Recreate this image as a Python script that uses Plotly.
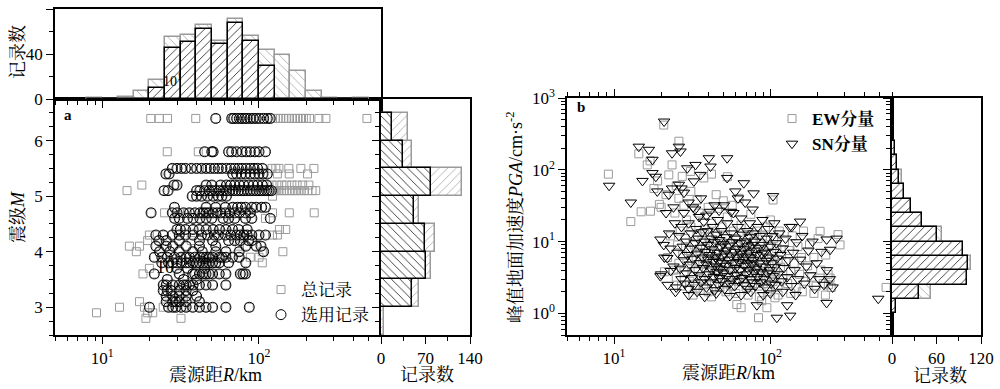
import math
import plotly.graph_objects as go

# ---------------- Panel a data ----------------
mag_levels = [6.4, 5.8, 5.5, 5.4, 5.2, 5.1, 5.0, 4.8, 4.7, 4.6, 4.4, 4.3, 4.2, 4.1, 4.0,
              3.9, 3.8, 3.7, 3.6, 3.5, 3.4, 3.3, 3.2, 3.1, 3.0, 2.9, 2.8]
# selected records (circles): hypocentral distance (km) per magnitude level
sel_dist = [
    [53, 67, 69, 72, 75, 78, 81, 84, 88, 92, 96, 101, 107, 113, 118],
    [45, 50, 51, 64, 67, 72, 78, 83, 88, 94, 100, 110],
    [28, 30, 32, 34, 37, 40, 43, 46, 49, 52, 55, 58, 62, 66, 70, 74, 78, 83, 88, 93, 98, 105],
    [25.5, 26.7, 68, 72, 77, 82, 88, 94, 100, 106, 113],
    [28.7, 30, 46, 50, 57, 62, 66, 70, 75, 80, 86, 92, 98, 105, 112],
    [24.8, 26.3, 40, 42, 45, 48, 50, 53, 56, 59, 62, 65, 68, 71, 74, 77, 80, 84, 88, 92, 96, 100, 104, 108, 112, 116, 120],
    [37.5, 40, 43, 47, 51, 55, 58, 62],
    [28.9, 46, 53, 61, 68, 73, 77, 82, 90, 96, 104, 110],
    [20.5, 28, 30, 33, 36, 39, 42, 44, 46, 48, 51, 54, 57, 61, 65, 70, 75, 82, 88],
    [29, 31, 35, 38, 42, 46, 50, 59, 64, 70, 82, 90, 118],
    [30, 31.5, 34, 38, 41.5, 46, 51, 56, 61.5, 67.8, 74, 84],
    [22, 24.5, 28, 31, 34, 38, 43, 47, 52, 55, 61, 66, 72, 76, 80, 84, 90, 100, 110],
    [23, 25.6, 31, 41.7, 50.6, 64, 70, 76, 86, 90],
    [22, 25.6, 28.2, 34.3, 41.7, 53, 82.4, 96, 103],
    [23.2, 27, 31, 37.8, 43.5, 53, 61.5, 74.7, 107],
    [21.5, 24, 26, 28.9, 31.8, 34.3, 36, 39, 42, 44, 46, 48, 50.6, 55.8, 58, 61.5, 67.8, 74.7],
    [24, 26.5, 28.2, 30, 32, 34.3, 36, 37.8, 40, 41.7, 44, 45.9, 48, 50.6, 53, 55.8, 64, 82.4],
    [30, 35, 45],
    [21.5, 31, 37.8, 39, 41.7, 43.8, 45.9, 48, 50.6, 55.8, 61.5, 76, 79, 82],
    [26, 33, 40],
    [24.5, 25.6, 28.2, 31, 33, 34.3, 36, 38, 41.7, 45.9, 50.6, 61.5],
    [24.5, 26, 27.5, 31, 34.3, 37.8],
    [25.6, 28.2, 31, 34.3, 40],
    [25.6, 28.2, 29.5, 31, 34.3, 41.7],
    [20, 26.5, 28.2, 29.5, 31.8, 34.3, 37.8, 41.7, 45.9, 50.6, 61.5, 86.7],
    [],
    [],
]
# records not selected (only in the total set)
extra_dist = [
    [20.4, 23.1, 26.1, 39.5, 122, 127, 132, 137, 143, 149, 155, 162, 169, 176, 184, 192, 200, 210, 241, 267, 488],
    [26, 41],
    [33, 47, 121, 128, 134, 155, 185, 224],
    [131, 156, 204],
    [17.9, 121, 130, 140, 150, 162, 175, 190, 208],
    [14.4, 122, 126, 130, 134, 139, 144, 150, 156, 163, 170, 178, 186, 195, 205, 218, 230],
    [122],
    [],
    [25, 35, 122, 156, 225],
    [110],
    [135, 148],
    [20, 122, 131],
    [19.5, 37],
    [14.9, 17.3, 75],
    [16.5, 105, 142],
    [88, 100],
    [30, 105],
    [20],
    [18.2, 80],
    [],
    [],
    [],
    [],
    [17.3, 33],
    [12.9, 18.6, 24.5, 33],
    [9.2, 19.5, 21],
    [19, 31.8],
]

# distance histogram (log10 R bin edges) and counts
dist_log_edges = [0.9, 1.0, 1.1, 1.2, 1.3, 1.4, 1.5, 1.6, 1.7, 1.8, 1.9, 2.0, 2.1, 2.2, 2.3, 2.4, 2.5, 2.6, 2.7]
dist_total_counts = [1, 0, 2, 7, 17, 55, 57, 66, 52, 71, 56, 44, 39, 25, 7, 1, 0, 1]
dist_sel_counts = [0, 0, 0, 0, 10, 45, 51, 62, 49, 68, 52, 29, 0, 0, 0, 0, 0, 0]

# magnitude histogram
mag_bin_centers = [2.75, 3.25, 3.75, 4.25, 4.75, 5.25, 5.75, 6.25]
mag_total_counts = [5, 59, 78, 85, 59, 128, 48, 43]
mag_sel_counts = [0, 49, 70, 69, 52, 78, 34, 17]

# ---------------- Panel b data ----------------
# (R km, PGA cm/s^2)
sn_points = [
    (9.3, 60), (12.8, 35), (14.4, 210), (15.2, 70), (16.7, 190), (17.6, 138), (17.6, 90), (18.5, 80),
    (18.9, 50), (19.8, 10.7), (20.8, 9), (20.9, 470), (21.9, 5.9), (22.4, 45), (23.5, 170), (23, 3.9),
    (19.8, 3.3), (26.6, 180), (26, 210), (26, 62), (29.4, 105), (33.2, 117), (32.4, 69), (35.7, 85),
    (40.4, 145), (41.4, 111), (52.9, 145), (52.9, 77), (59.7, 50), (67.6, 65), (78.1, 47), (104, 43),
    (155, 19), (137, 16), (229, 10.7), (265, 11), (241, 7.7), (229, 1.4), (490, 1.6), (110, 0.87),
    (134, 0.93), (128, 1.3), (82, 1.3), (24.7, 2.0),
    (20, 3.5), (21, 6), (22, 2.5), (22.5, 13), (23, 8), (24, 4.5), (24, 30), (24.5, 18), (21.5, 25), (23.5, 55),
    (27, 55), (28, 48), (30, 35), (33, 28), (36, 40), (39, 23), (44, 32), (47, 27), (56, 26), (62, 40),
    (25, 2.3), (25.5, 7), (26, 12), (26.5, 4.2), (27, 3), (27, 16), (27.5, 8.5), (28, 5.5), (28, 25), (28.5, 2.6),
    (29, 10), (29, 3.6), (29.5, 6.5), (30, 18), (30, 2.2), (30.5, 4.8), (31, 8), (31, 13), (31.5, 3.1), (32, 5.8),
    (32, 30), (32.5, 2.5), (33, 9.5), (33, 4), (33.5, 15), (34, 6.8), (34, 2.0), (34.5, 11), (35, 3.4), (35, 22),
    (35.5, 5), (36, 8.2), (36, 2.7), (36.5, 13.5), (37, 4.3), (37, 6), (37.5, 19), (38, 3), (38, 10), (38.5, 7.2),
    (39, 2.3), (39, 4.8), (39.5, 14), (40, 5.6), (40, 9), (40.5, 3.5), (41, 26), (41, 6.5), (41.5, 2.7), (42, 11),
    (42, 4.1), (42.5, 7.8), (43, 5.2), (43, 16), (43.5, 3.2), (44, 9.8), (44, 2.1), (44.5, 6), (45, 4.5), (45, 12.5),
    (45.5, 3.8), (46, 7), (46, 20), (46.5, 2.5), (47, 5.3), (47, 10.5), (47.5, 3.1), (48, 8.5), (48, 4.2), (48.5, 14),
    (49, 6.2), (49, 2.8), (49.5, 5), (50, 9.2), (50, 3.6), (50.5, 32), (51, 6.8), (51, 2.2), (52, 4.6), (52, 11.5),
    (52.5, 7.5), (53, 3.3), (53, 18), (54, 5.6), (54, 8.8), (55, 2.6), (55, 4), (56, 13), (56, 6.4), (57, 3),
    (57, 9.8), (58, 5), (58, 25), (59, 7.2), (59, 2.4), (60, 4.3), (60, 11), (61, 6), (61, 3.4), (62, 16),
    (62, 8), (63, 2.8), (63, 5.2), (64, 9.5), (64, 4), (65, 6.8), (65, 21), (66, 3.1), (66, 12.5), (67, 5.6),
    (67, 7.8), (68, 2.5), (68, 4.6), (69, 10), (69, 35), (70, 6.2), (70, 3.5), (71, 8.6), (71, 14), (72, 5),
    (72, 2.2), (73, 7), (73, 4), (74, 11.5), (74, 18), (75, 3), (75, 6), (76, 9), (76, 4.8), (77, 2.7),
    (77, 28), (78, 13), (78, 5.5), (79, 7.5), (79, 3.7), (80, 10), (80, 2.4), (81, 4.2), (82, 6.5), (83, 16),
    (83, 3.2), (84, 8.2), (85, 5), (86, 12), (86, 2.7), (87, 3.8), (88, 6.8), (89, 20), (90, 4.5), (90, 9),
    (91, 3), (92, 7), (93, 2.3), (94, 5.4), (95, 11), (96, 3.6), (97, 15), (98, 6), (99, 4), (100, 8.5),
    (101, 2.6), (102, 5), (103, 12), (104, 3.3), (105, 7.2), (106, 18), (107, 4.4), (108, 2.5), (109, 9.5), (110, 5.8),
    (112, 3.5), (114, 13), (116, 6.5), (118, 2.8), (120, 8), (122, 4.3), (125, 11), (128, 3.2), (130, 5.5), (133, 16),
    (136, 2.4), (140, 7), (143, 4), (147, 9.8), (150, 3), (155, 5.6), (160, 12), (165, 2.6), (170, 4.5), (175, 7.5),
    (180, 3.4), (186, 10), (192, 2.2), (198, 5), (205, 3), (212, 7.2), (220, 2.5), (230, 4), (240, 3), (250, 2.3),
    (30, 1.8), (38, 1.7), (45, 1.9), (55, 1.75), (65, 1.8), (75, 2), (90, 1.8), (100, 1.9), (120, 2), (145, 1.8),
]
ew_points = [
    (9.2, 87), (12.8, 19), (14.9, 26), (14.4, 167), (17.1, 26.5), (17, 133), (18, 55), (16.3, 117), (20.8, 420),
    (23.5, 117), (22.4, 85), (26, 250), (27.3, 81), (30.8, 95), (37.5, 77), (42, 87), (63, 40), (104, 38),
    (53, 80), (61, 1.33), (84, 0.87), (107, 1.65), (550, 2.3), (208, 13.9), (271, 12.5), (279, 9), (241, 3.1),
    (235, 2.5), (19, 70), (20, 30), (21.5, 45), (25, 60), (19.5, 33),
    (22, 6), (23, 12), (24, 4), (21, 3.8), (24.5, 25), (26, 40), (28, 32), (31, 50), (34, 38), (40, 30),
    (45, 45), (50, 37), (57, 32),
    (25, 3.2), (25.5, 9), (26, 5), (26.5, 14), (27, 2.4), (27.5, 6.5), (28, 3.8), (28.5, 11), (29, 20), (29.5, 4.5),
    (30, 7.5), (30.5, 2.8), (31, 16), (31.5, 5.4), (32, 3.3), (32.5, 9), (33, 2.2), (33.5, 6.2), (34, 12), (34.5, 4),
    (35, 25), (35.5, 7), (36, 3), (36.5, 10.5), (37, 5), (37.5, 2.5), (38, 15), (38.5, 8), (39, 3.7), (39.5, 5.8),
    (40, 2), (40.5, 11.5), (41, 4.4), (41.5, 7), (42, 18), (42.5, 3.2), (43, 9.5), (43.5, 5.5), (44, 2.6), (44.5, 13),
    (45, 4), (45.5, 6.8), (46, 29), (46.5, 3.5), (47, 8.6), (47.5, 2.3), (48, 5), (48.5, 10), (49, 16), (49.5, 3.9),
    (50, 6.5), (51, 2.7), (51.5, 12), (52, 4.6), (52.5, 8), (53, 22), (54, 3.2), (55, 5.8), (55.5, 9.5), (56, 2.4),
    (57, 4.2), (58, 14), (58.5, 6.8), (59, 3.4), (60, 11), (61, 5), (62, 2.8), (63, 7.5), (64, 4), (65, 17),
    (66, 6), (67, 3), (68, 9), (69, 4.8), (70, 2.3), (71, 12.5), (72, 6.5), (73, 3.6), (74, 8), (75, 24),
    (76, 4.5), (77, 2.6), (78, 10), (79, 5.3), (80, 3.2), (81, 7), (82, 14), (83, 4), (84, 2.4), (85, 6),
    (86, 9.5), (87, 3.4), (88, 5), (89, 12), (90, 2.6), (91, 7.5), (92, 4.2), (93, 16), (94, 3), (95, 6),
    (96, 2.2), (97, 9), (98, 4.6), (100, 20), (101, 3.5), (102, 6.8), (104, 2.8), (105, 11), (106, 5), (108, 3.8),
    (110, 8), (112, 2.4), (114, 14), (116, 4.4), (118, 6.5), (120, 3), (123, 10), (126, 5.2), (129, 2.6), (132, 7.5),
    (135, 3.8), (138, 12), (142, 5), (146, 2.3), (150, 8.5), (154, 3.5), (158, 6), (163, 14), (168, 2.8), (173, 4.6),
    (178, 9), (184, 3.2), (190, 6), (196, 2.4), (202, 11), (210, 4), (218, 2.6), (226, 6.5), (234, 3.5), (245, 2.3),
    (32, 1.8), (42, 1.7), (52, 2), (60, 1.9), (72, 1.8), (85, 1.7), (98, 2), (112, 1.8), (135, 1.9), (160, 2),
    (190, 1.9), (225, 1.8), (88, 1.5), (95, 1.2), (65, 1.2),
]

# PGA histogram (log10 PGA bin edges) and counts
pga_log_edges = [-0.4, -0.2, 0.0, 0.2, 0.4, 0.6, 0.8, 1.0, 1.2, 1.4, 1.6, 1.8, 2.0, 2.2, 2.4, 2.6]
pga_sn_counts = [1, 2, 5, 37, 101, 102, 96, 61, 40, 25, 16, 9, 7, 4, 1]
pga_ew_counts = [0, 1, 6, 52, 101, 106, 96, 67, 40, 25, 16, 13, 7, 4, 1]

# ---------------- build figure ----------------
SERIF = "Liberation Serif, 'Noto Serif CJK SC', 'Noto Sans CJK SC', serif"
GRAY = "#9a9a9a"

def px_x(p):
    return p / 1000.0

def px_y(p):
    return 1 - p / 389.0

def edges_to_bars(log_edges):
    lo = [10 ** e for e in log_edges[:-1]]
    hi = [10 ** e for e in log_edges[1:]]
    mids = [(a + b) / 2 for a, b in zip(lo, hi)]
    widths = [b - a for a, b in zip(lo, hi)]
    return mids, widths

sel_R, sel_M, tot_R, tot_M = [], [], [], []
for m, s, e in zip(mag_levels, sel_dist, extra_dist):
    sel_R += s
    sel_M += [m] * len(s)
    tot_R += s + e
    tot_M += [m] * (len(s) + len(e))

def pattern_marker(shape, color):
    return dict(color="white", line=dict(color=color, width=1.5),
                pattern=dict(shape=shape, fgcolor=color, bgcolor="white", size=6, solidity=0.12,
                             fillmode="replace"))

fig = go.Figure()

# panel a scatter
fig.add_trace(go.Scatter(x=tot_R, y=tot_M, mode="markers", name="总记录",
                         marker=dict(symbol="square-open", size=8, color=GRAY, line=dict(width=1, color=GRAY)),
                         xaxis="x", yaxis="y", legend="legend"))
fig.add_trace(go.Scatter(x=sel_R, y=sel_M, mode="markers", name="选用记录",
                         marker=dict(symbol="circle-open", size=10, color="black", line=dict(width=1, color="black")),
                         xaxis="x", yaxis="y", legend="legend"))

# top histogram (distance)
dmid, dwid = edges_to_bars(dist_log_edges)
fig.add_trace(go.Bar(x=dmid, y=dist_total_counts, width=dwid, marker=pattern_marker("\\", GRAY),
                     xaxis="x2", yaxis="y2", showlegend=False))
fig.add_trace(go.Bar(x=dmid, y=dist_sel_counts, width=dwid, marker=pattern_marker("/", "black"),
                     xaxis="x2", yaxis="y2", showlegend=False))

# right histogram (magnitude)
fig.add_trace(go.Bar(y=mag_bin_centers, x=mag_total_counts, width=0.5, orientation="h",
                     marker=pattern_marker("/", GRAY), xaxis="x3", yaxis="y3", showlegend=False))
fig.add_trace(go.Bar(y=mag_bin_centers, x=mag_sel_counts, width=0.5, orientation="h",
                     marker=pattern_marker("\\", "black"), xaxis="x3", yaxis="y3", showlegend=False))

# panel b scatter
fig.add_trace(go.Scatter(x=[p[0] for p in ew_points], y=[p[1] for p in ew_points], mode="markers",
                         name="<b>EW分量</b>",
                         marker=dict(symbol="square-open", size=8, color=GRAY, line=dict(width=1, color=GRAY)),
                         xaxis="x4", yaxis="y4", legend="legend2"))
fig.add_trace(go.Scatter(x=[p[0] for p in sn_points], y=[p[1] for p in sn_points], mode="markers",
                         name="<b>SN分量</b>",
                         marker=dict(symbol="triangle-down-open", size=10, color="black", line=dict(width=1, color="black")),
                         xaxis="x4", yaxis="y4", legend="legend2"))

# right histogram (PGA)
pmid, pwid = edges_to_bars(pga_log_edges)
fig.add_trace(go.Bar(y=pmid, x=pga_ew_counts, width=pwid, orientation="h",
                     marker=pattern_marker("\\", GRAY), xaxis="x5", yaxis="y5", showlegend=False))
fig.add_trace(go.Bar(y=pmid, x=pga_sn_counts, width=pwid, orientation="h",
                     marker=pattern_marker("/", "black"), xaxis="x5", yaxis="y5", showlegend=False))

def axis(**kw):
    d = dict(showgrid=False, zeroline=False, showline=True, linecolor="black", linewidth=1.5,
             ticks="outside", ticklen=7, tickwidth=1.3, tickcolor="black", mirror=True,
             automargin=False, tickfont=dict(family=SERIF, size=17, color="black"))
    d.update(kw)
    return d

log_minor_R = [5, 6, 7, 8, 9, 20, 30, 40, 50, 60, 70, 80, 90, 200, 300, 400, 500, 600]
log_minor_P = [0.5, 0.6, 0.7, 0.8, 0.9, 2, 3, 4, 5, 6, 7, 8, 9, 20, 30, 40, 50, 60, 70, 80, 90,
               200, 300, 400, 500, 600, 700, 800, 900]
minor_style = dict(ticks="outside", ticklen=4, tickwidth=1.2, tickcolor="black", showgrid=False)
r_range = [math.log10(5), math.log10(600)]
p_range = [math.log10(0.5), 3]
mag_minor = [2.5, 2.75, 3.25, 3.5, 3.75, 4.25, 4.5, 4.75, 5.25, 5.5, 5.75, 6.25, 6.5, 6.75]

ya = [px_y(335), px_y(99)]
yb = [px_y(335), px_y(98)]
fig.update_layout(
    template="none",
    width=1000, height=389, margin=dict(l=0, r=0, t=0, b=0, pad=0, autoexpand=False),
    paper_bgcolor="white", plot_bgcolor="white", barmode="overlay", bargap=0,
    font=dict(family=SERIF, size=17, color="black"),
    xaxis=axis(type="log", range=r_range, domain=[px_x(55), px_x(381)], anchor="y",
               tickvals=[10, 100], ticktext=["10<sup>1</sup>", "10<sup>2</sup>"],
               minor=dict(tickvals=log_minor_R, **minor_style)),
    yaxis=axis(range=[2.5, 6.75], domain=ya, anchor="x", tickvals=[3, 4, 5, 6],
               minor=dict(tickvals=mag_minor, **minor_style)),
    xaxis2=axis(type="log", range=r_range, domain=[px_x(55), px_x(381)], anchor="y2",
                tickvals=[10, 100], showticklabels=False,
                minor=dict(tickvals=log_minor_R, **minor_style)),
    yaxis2=axis(range=[0, 80], domain=[px_y(99), px_y(9)], anchor="x2", tickvals=[0, 40, 80],
                minor=dict(tickvals=[20, 60], **minor_style)),
    xaxis3=axis(range=[0, 140], domain=[px_x(381), px_x(470)], anchor="y3", tickvals=[0, 70, 140],
                minor=dict(tickvals=[35, 105], **minor_style)),
    yaxis3=axis(range=[2.5, 6.75], domain=ya, anchor="x3", tickvals=[3, 4, 5, 6], showticklabels=False,
                minor=dict(tickvals=mag_minor, **minor_style)),
    xaxis4=axis(type="log", range=r_range, domain=[px_x(567), px_x(892)], anchor="y4",
                tickvals=[10, 100], ticktext=["10<sup>1</sup>", "10<sup>2</sup>"], mirror="ticks",
                minor=dict(tickvals=log_minor_R, **minor_style)),
    yaxis4=axis(type="log", range=p_range, domain=yb, anchor="x4",
                tickvals=[1, 10, 100, 1000],
                ticktext=["10<sup>0</sup>", "10<sup>1</sup>", "10<sup>2</sup>", "10<sup>3</sup>"],
                minor=dict(tickvals=log_minor_P, **minor_style)),
    xaxis5=axis(range=[0, 120], domain=[px_x(892), px_x(981)], anchor="y5", tickvals=[0, 60, 120],
                minor=dict(tickvals=[30, 90], **minor_style)),
    yaxis5=axis(type="log", range=p_range, domain=yb, anchor="x5",
                tickvals=[1, 10, 100, 1000], showticklabels=False,
                minor=dict(tickvals=log_minor_P, **minor_style)),
    legend=dict(x=px_x(261), y=px_y(333), xanchor="left", yanchor="bottom", bgcolor="rgba(0,0,0,0)",
                font=dict(family=SERIF, size=17), tracegroupgap=0, itemwidth=30),
    legend2=dict(x=px_x(772), y=px_y(101), xanchor="left", yanchor="top", bgcolor="rgba(0,0,0,0)",
                 font=dict(family=SERIF, size=17), tracegroupgap=0, itemwidth=30),
)

def ann(text, x, y, size=18, angle=0, **kw):
    fig.add_annotation(text=text, x=px_x(x), y=px_y(y), xref="paper", yref="paper", showarrow=False,
                       xanchor="center", yanchor="middle",
                       textangle=angle, font=dict(family=SERIF, size=size, color="black"), **kw)

ann("震级<i>M</i>", 18, 217, angle=-90)
ann("记录数", 18, 52, angle=-90)
ann("震源距<i>R</i>/km", 215, 375)
ann("记录数", 427, 375)
ann("峰值地面加速度<i>PGA</i>/cm·s<sup>-2</sup>", 515, 217, size=18, angle=-90)
ann("震源距<i>R</i>/km", 728, 373)
ann("记录数", 940, 376)
ann("<b>a</b>", 68, 115, size=15)
ann("<b>b</b>", 581, 107, size=15)
ann("10", 165, 267, size=18)
ann("10<sup>1</sup>", 172, 80, size=14)

fig.write_html("out.html", config={"displayModeBar": False},
               post_script="document.body.style.margin='0';document.body.style.overflow='hidden';")
